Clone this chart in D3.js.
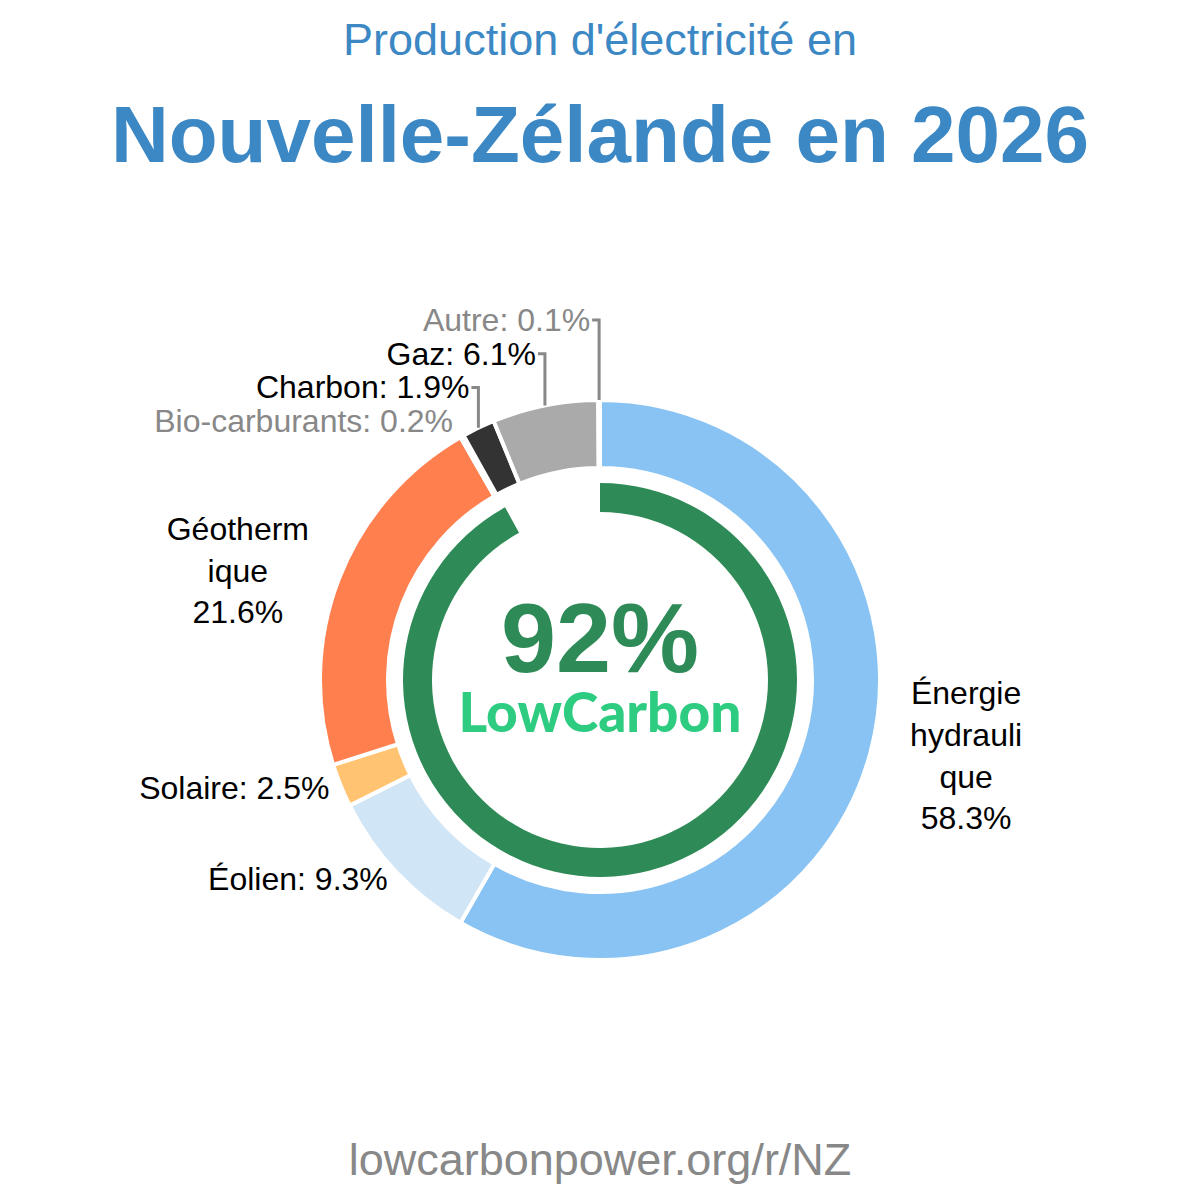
<!DOCTYPE html>
<html>
<head>
<meta charset="utf-8">
<script src="https://cdn.jsdelivr.net/npm/d3@7"></script>
<style>
  body { margin: 0; background: #fff; }
  svg text { font-family: "Liberation Sans", Arial, sans-serif; }
</style>
</head>
<body>
<div id="chart"></div>
<script>
(function() {
var width = 1200,
  height = 1200;

// data, clockwise from the top
var sources = ["Énergie hydraulique", "Éolien", "Solaire", "Géothermique", "Bio-carburants", "Charbon", "Gaz", "Autre"]
var shares = [58.3, 9.3, 2.5, 21.6, 0.2, 1.9, 6.1, 0.1]
var labelLines = [["Énergie", "hydrauli", "que", "58.3%"], null, null, ["Géotherm", "ique", "21.6%"], null, null, null, null]
var colors = ["#89c3f3", "#d0e6f7", "#ffc371", "#ff7f4f", "#888888", "#333333", "#aaaaaa", "#888888"]
var lowCarbonShare = 92

var data = sources.map(function(s, i) {
  return {name: s, value: shares[i], color: colors[i], lines: labelLines[i]}
})

var svg = d3.select("#chart")
  .append("svg")
  .attr("width", width)
  .attr("height", height)

svg.append("text")
  .attr("x", width / 2)
  .attr("y", 55)
  .attr("text-anchor", "middle")
  .attr("font-size", 45)
  .attr("fill", "#3c88c4")
  .text("Production d'électricité en")

svg.append("text")
  .attr("x", width / 2)
  .attr("y", 162)
  .attr("text-anchor", "middle")
  .attr("font-size", 80)
  .attr("font-weight", "bold")
  .attr("fill", "#3c88c4")
  .text("Nouvelle-Zélande en 2026")

svg.append("text")
  .attr("x", width / 2)
  .attr("y", 1175)
  .attr("text-anchor", "middle")
  .attr("font-size", 45)
  .attr("fill", "#888")
  .text("lowcarbonpower.org/r/NZ")

var cx = 600, cy = 680
var outerR = 280, innerR = 212

var g = svg.append("g")
  .attr("transform", "translate(" + cx + "," + cy + ")")

var pie = d3.pie()
  .value(function(d) { return d.value })
  .sort(null)

var arc = d3.arc()
  .innerRadius(innerR)
  .outerRadius(outerR)

var arcs = pie(data)

g.selectAll(".slice")
  .data(arcs)
  .enter().append("path")
  .attr("class", "slice")
  .attr("d", arc)
  .attr("fill", function(d) { return d.data.color })
  .attr("stroke", "#fff")
  .attr("stroke-width", 4)

// low carbon ring
var ring = d3.arc()
  .innerRadius(168)
  .outerRadius(197)
  .startAngle(0)
  .endAngle(2 * Math.PI * lowCarbonShare / 100)

g.append("path")
  .attr("d", ring())
  .attr("fill", "#2e8b57")

g.append("text")
  .attr("x", 0)
  .attr("y", -8)
  .attr("text-anchor", "middle")
  .attr("font-size", 99)
  .attr("font-weight", "bold")
  .attr("fill", "#2e8b57")
  .text(lowCarbonShare + "%")

g.append("text")
  .attr("x", 0)
  .attr("y", 52)
  .attr("text-anchor", "middle")
  .style("font-family", "Lato, sans-serif")
  .attr("font-size", 55)
  .attr("font-weight", 900)
  .attr("fill", "#2ecc80")
  .text("LowCarbon")

function midAngle(d) { return (d.startAngle + d.endAngle) / 2 }

var fs = 32
var labelR = 292
var big = arcs.filter(function(d) { return d.data.value >= 2 && d.data.name !== "Gaz" && d.data.name !== "Charbon" })
var small = arcs.filter(function(d) { return big.indexOf(d) < 0 }).reverse()

big.forEach(function(d) {
  var a = midAngle(d)
  var x = labelR * Math.sin(a), y = -labelR * Math.cos(a)
  var side = x > 0 ? 1 : -1
  if (d.data.lines) {
    var lh = 41.6
    var t = g.append("text")
      .attr("text-anchor", "middle")
      .attr("font-size", fs)
      .attr("fill", "#000")
    var y0 = y - (d.data.lines.length - 1) * lh / 2 + 11.5 - (side > 0 ? 0 : 4)
    d.data.lines.forEach(function(l, i) {
      t.append("tspan")
        .attr("x", x + (side > 0 ? 84 : -90))
        .attr("y", y0 + i * lh)
        .text(l)
    })
  } else {
    g.append("text")
      .attr("x", x)
      .attr("y", y + 9)
      .attr("text-anchor", side > 0 ? "start" : "end")
      .attr("font-size", fs)
      .attr("fill", "#000")
      .text(d.data.name + ": " + d.data.value + "%")
  }
})

// stacked labels for slices near the top
small.forEach(function(d, i) {
  var a = midAngle(d)
  var x = outerR * Math.sin(a), y = -outerR * Math.cos(a)
  var ly = 320 - cy + i * 33.7
  var grey = d.data.value < 1
  if (d.data.name !== "Bio-carburants") {
    g.append("path")
      .attr("d", "M" + x + "," + y + "V" + ly + "H" + (x - 7))
      .attr("fill", "none")
      .attr("stroke", "#888")
      .attr("stroke-width", 3)
  }
  g.append("text")
    .attr("x", x - 9)
    .attr("y", ly + 11)
    .attr("text-anchor", "end")
    .attr("font-size", fs)
    .attr("fill", grey ? "#888" : "#000")
    .text(d.data.name + ": " + d.data.value + "%")
})
})();
</script>
</body>
</html>
